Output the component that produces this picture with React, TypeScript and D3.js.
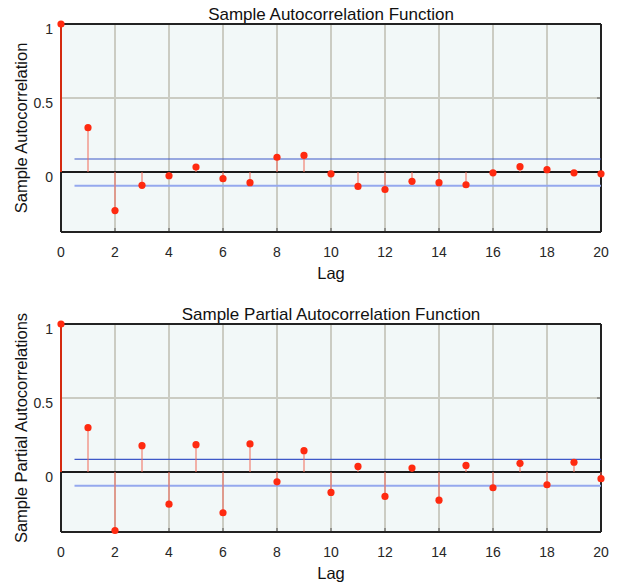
import * as d3 from 'd3'

const lags = d3.range(0, 21)
const acfValues = [1, 0.30, -0.26, -0.09, -0.025, 0.034, -0.045, -0.072, 0.10, 0.112, -0.012, -0.097, -0.118, -0.063, -0.072, -0.086, -0.005, 0.036, 0.016, -0.005, -0.012]
const pacfValues = [1, 0.30, -0.395, 0.178, -0.217, 0.185, -0.275, 0.19, -0.066, 0.144, -0.138, 0.038, -0.165, 0.027, -0.19, 0.045, -0.106, 0.059, -0.086, 0.066, -0.045]
const acfBounds = [0.088, -0.093]
const pacfBounds = [0.086, -0.093]
const xTicks = [0, 2, 4, 6, 8, 10, 12, 14, 16, 18, 20]
const yTicks = [0, 0.5, 1]

const FONT = '"Liberation Sans", Arial, sans-serif'
const LEFT = 61
const RIGHT = 601

type PanelProps = {
  top: number
  values: number[]
  bounds: number[]
  title: string
  ylabel: string
}

function Panel({ top, values, bounds, title, ylabel }: PanelProps) {
  const bottom = top + 208
  const x = d3.scaleLinear().domain([0, 20]).range([LEFT, RIGHT])
  const y = d3.scaleLinear().domain([-0.405, 1]).range([bottom, top])
  const y0 = y(0)

  return (
    <g>
      {/* plot background */}
      <rect x={LEFT} y={top} width={RIGHT - LEFT} height={bottom - top} fill="#f2f8f8" />

      {/* grid */}
      {xTicks.map(t => (
        <line key={`gx-${t}`} x1={x(t)} x2={x(t)} y1={top} y2={bottom} stroke="#cbccc3" strokeWidth={2} />
      ))}
      {yTicks.filter(t => t !== 0 && t !== 1).map(t => (
        <line key={`gy-${t}`} x1={LEFT} x2={RIGHT} y1={y(t)} y2={y(t)} stroke="#cbccc3" strokeWidth={2} />
      ))}

      {/* tick marks */}
      {xTicks.map(t => (
        <line key={`tx-${t}`} x1={x(t)} x2={x(t)} y1={bottom} y2={bottom - 4} stroke="#555" strokeWidth={1} />
      ))}
      {yTicks.map(t => (
        <line key={`ty-${t}`} x1={RIGHT} x2={RIGHT - 4} y1={y(t)} y2={y(t)} stroke="#555" strokeWidth={1} />
      ))}

      {/* frame */}
      <line x1={LEFT} x2={RIGHT} y1={top} y2={top} stroke="#222" strokeWidth={2} />
      <line x1={LEFT} x2={RIGHT} y1={bottom} y2={bottom} stroke="#222" strokeWidth={2} />
      <line x1={LEFT} x2={LEFT} y1={top} y2={bottom} stroke="#222" strokeWidth={2} />
      <line x1={RIGHT} x2={RIGHT} y1={top} y2={bottom} stroke="#222" strokeWidth={2} />

      {/* confidence bounds */}
      <line x1={x(0.5)} x2={RIGHT} y1={y(bounds[0])} y2={y(bounds[0])} stroke="#3f58c8" strokeWidth={1.2} />
      <line x1={x(0.5)} x2={RIGHT} y1={y(bounds[1])} y2={y(bounds[1])} stroke="#94a8ee" strokeWidth={2} />

      {/* zero line */}
      <line x1={LEFT} x2={RIGHT} y1={y0} y2={y0} stroke="#1a1a1a" strokeWidth={2} />

      {/* stems */}
      {lags.map(l => (
        <line
          key={`s-${l}`}
          x1={x(l)}
          x2={x(l)}
          y1={y0}
          y2={y(values[l])}
          stroke={l === 0 ? '#d42a10' : '#f26a58'}
          strokeWidth={l === 0 ? 2 : 1}
        />
      ))}
      {lags.map(l => (
        <circle key={`c-${l}`} cx={x(l)} cy={y(values[l])} r={3.6} fill="#ff2a10" />
      ))}

      {/* tick labels */}
      {xTicks.map(t => (
        <text key={`lx-${t}`} x={x(t)} y={bottom + 25} fontSize={14} textAnchor="middle" fill="#262626" fontFamily={FONT}>
          {t}
        </text>
      ))}
      {yTicks.map(t => (
        <text key={`ly-${t}`} x={53} y={y(t) + 10} fontSize={14} textAnchor="end" fill="#262626" fontFamily={FONT}>
          {t}
        </text>
      ))}

      {/* titles */}
      <text x={(LEFT + RIGHT) / 2} y={top - 4} fontSize={17} textAnchor="middle" fill="#111" fontFamily={FONT}>
        {title}
      </text>
      <text x={(LEFT + RIGHT) / 2} y={bottom + 47} fontSize={16.5} textAnchor="middle" fill="#111" fontFamily={FONT}>
        Lag
      </text>
      <text
        transform={`translate(27, ${(top + bottom) / 2}) rotate(-90)`}
        fontSize={16.5}
        textAnchor="middle"
        fill="#111"
        fontFamily={FONT}
      >
        {ylabel}
      </text>
    </g>
  )
}

export default function App() {
  return (
    <svg width={621} height={584} style={{ position: 'absolute', left: 0, top: 0, background: '#fff' }}>
      <Panel top={24} values={acfValues} bounds={acfBounds} title="Sample Autocorrelation Function" ylabel="Sample Autocorrelation" />
      <Panel top={324} values={pacfValues} bounds={pacfBounds} title="Sample Partial Autocorrelation Function" ylabel="Sample Partial Autocorrelations" />
    </svg>
  )
}
